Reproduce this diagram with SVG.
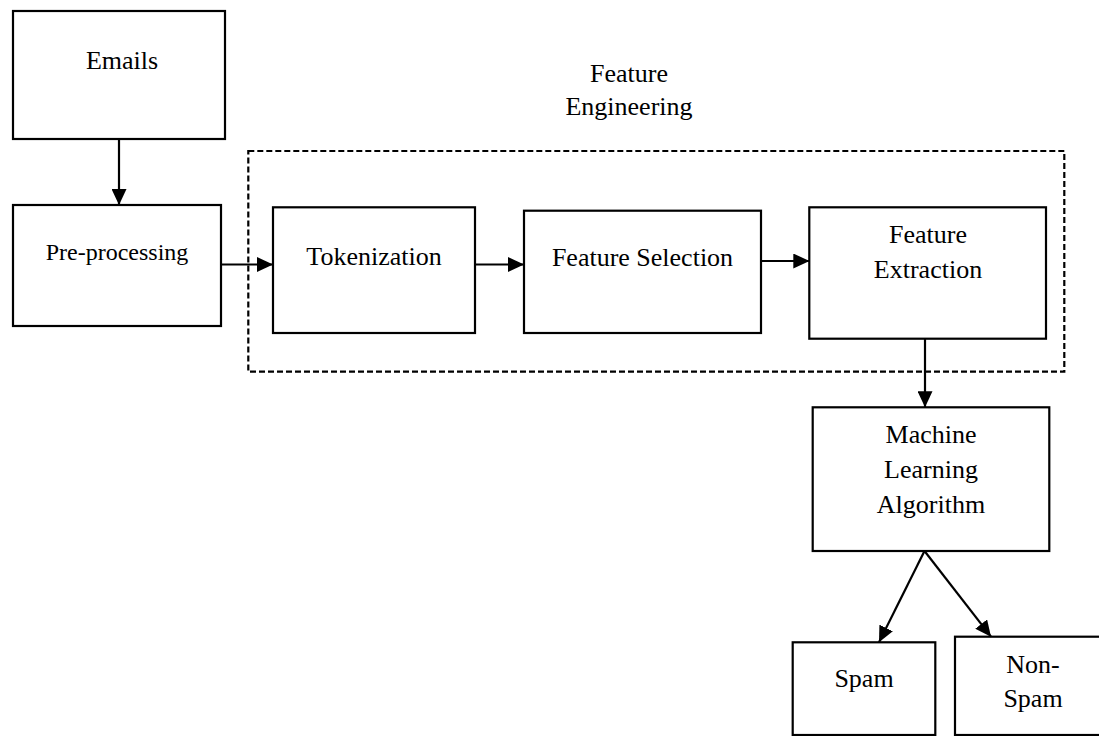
<svg xmlns="http://www.w3.org/2000/svg" width="1099" height="736" viewBox="0 0 1099 736">
  <style>
    .box { fill: #ffffff; stroke: #000000; stroke-width: 2.2; }
    .group { fill: none; stroke: #000000; stroke-width: 2.2; stroke-dasharray: 6 3; }
    .label { font-family: "Liberation Serif", "Times New Roman", serif; font-size: 26px; fill: #000000; text-anchor: middle; }
    .small { font-size: 24px; }
    .edge { fill: none; stroke: #000000; stroke-width: 2.2; marker-end: url(#arrow); }
  </style>
  <defs>
    <marker id="arrow" markerUnits="userSpaceOnUse" markerWidth="16" markerHeight="15" refX="16" refY="7.5" orient="auto">
      <path d="M0,0 L16,7.5 L0,15 z" fill="#000000"/>
    </marker>
  </defs>
  <rect width="1099" height="736" fill="#ffffff"/>

  <!-- Feature engineering stage boundary -->
  <g id="feature-engineering">
    <rect class="group" x="248.3" y="151" width="816" height="220.7"/>
    <text class="label" x="629" y="82">Feature</text>
    <text class="label" x="629" y="115">Engineering</text>
  </g>

  <g id="emails">
    <rect class="box" x="13" y="11" width="212" height="128"/>
    <text class="label" x="122" y="69">Emails</text>
  </g>

  <g id="pre-processing">
    <rect class="box" x="13" y="205" width="208" height="121"/>
    <text class="label small" x="117" y="260">Pre-processing</text>
  </g>

  <g id="tokenization">
    <rect class="box" x="273" y="207.3" width="202" height="125.7"/>
    <text class="label" x="374" y="265">Tokenization</text>
  </g>

  <g id="feature-selection">
    <rect class="box" x="524" y="210.7" width="237" height="122.3"/>
    <text class="label" x="642.5" y="266">Feature Selection</text>
  </g>

  <g id="feature-extraction">
    <rect class="box" x="809.3" y="207.3" width="236.7" height="131.4"/>
    <text class="label" x="928" y="243.3">Feature</text>
    <text class="label" x="928" y="278.3">Extraction</text>
  </g>

  <g id="ml-algorithm">
    <rect class="box" x="812.7" y="407.3" width="236.6" height="143.7"/>
    <text class="label" x="931" y="443">Machine</text>
    <text class="label" x="931" y="478">Learning</text>
    <text class="label" x="931" y="513">Algorithm</text>
  </g>

  <g id="spam">
    <rect class="box" x="792.7" y="642.3" width="142.6" height="92.7"/>
    <text class="label" x="864" y="687">Spam</text>
  </g>

  <g id="non-spam">
    <rect class="box" x="955" y="636.7" width="157" height="98.3"/>
    <text class="label" x="1033" y="673">Non-</text>
    <text class="label" x="1033" y="707">Spam</text>
  </g>

  <g id="connectors">
    <line class="edge" x1="119" y1="139" x2="119" y2="205"/>
    <line class="edge" x1="221" y1="264.5" x2="273" y2="264.5"/>
    <line class="edge" x1="475" y1="264.5" x2="524" y2="264.5"/>
    <line class="edge" x1="761" y1="261" x2="809.3" y2="261"/>
    <line class="edge" x1="925" y1="338.7" x2="925" y2="407.3"/>
    <line class="edge" x1="924.5" y1="551" x2="879" y2="642.3"/>
    <line class="edge" x1="924.5" y1="551" x2="991" y2="636.7"/>
  </g>
</svg>
